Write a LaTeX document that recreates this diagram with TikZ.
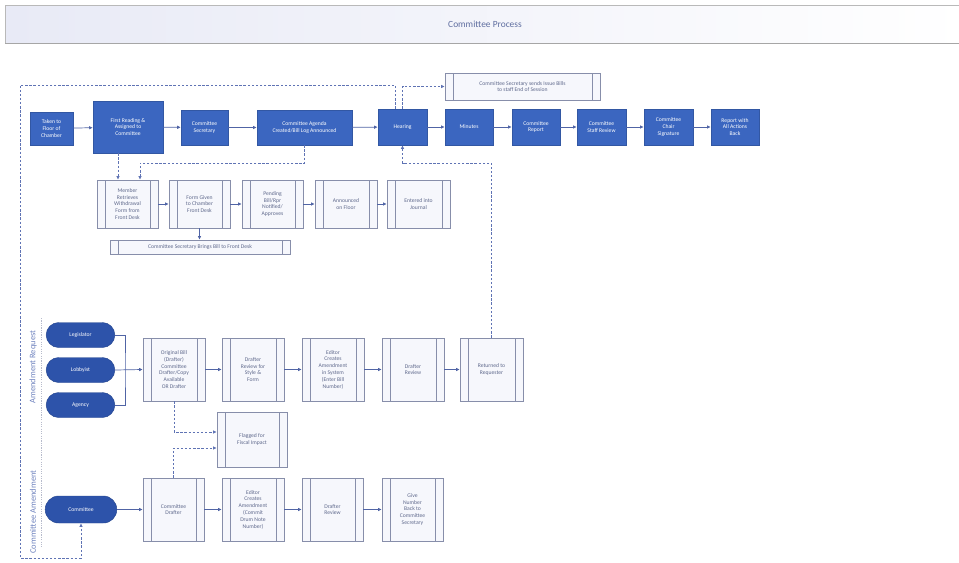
\documentclass[tikz,border=0pt]{standalone}
\usepackage{fontspec}
\setmainfont{Carlito}
\usetikzlibrary{arrows.meta,calc,shapes.misc}
\newdimen\pu \pu=0.85pt
\definecolor{bx}{RGB}{59,102,192}
\definecolor{ov}{RGB}{45,83,170}
\definecolor{subf}{RGB}{246,247,252}
\definecolor{subd}{RGB}{135,142,170}
\definecolor{subt}{RGB}{95,105,140}
\definecolor{ln}{RGB}{80,100,165}
\definecolor{dln}{RGB}{95,115,180}
\definecolor{ttl}{RGB}{95,110,160}
\definecolor{lanec}{RGB}{110,130,190}
\tikzset{
  boxfont/.style={font=\fontsize{4.8}{5.8}\selectfont},
  proc/.style={rectangle, draw=bx!85!black, fill=bx, text=white, inner sep=1pt, align=center, boxfont},
  sub/.style={rectangle, draw=subd, fill=subf, text=subt, inner sep=1pt, align=center, boxfont, line width=0.5pt,
    path picture={\draw[subd, line width=0.5pt]
      ([xshift=8\pu]path picture bounding box.north west) -- ([xshift=8\pu]path picture bounding box.south west)
      ([xshift=-8\pu]path picture bounding box.north east) -- ([xshift=-8\pu]path picture bounding box.south east);}},
  oval/.style={rounded rectangle, draw=ov!85!black, fill=ov, text=white, inner sep=1pt, align=center, boxfont, minimum width=71\pu, minimum height=25\pu},
  flow/.style={draw=ln, line width=0.6pt, -{Latex[length=3pt,width=3pt]}},
  dl/.style={draw=dln, line width=0.6pt, dash pattern=on 2pt off 1.5pt, -{Latex[length=3pt,width=3pt]}},
  lanelbl/.style={text=lanec, font=\fontsize{7.2}{8}\selectfont, rotate=90},
}
\begin{document}
\begin{tikzpicture}[x=\pu, y=-\pu]
\useasboundingbox (0,0) rectangle (959,562);
% title bar
\node[rectangle, draw=gray!55, line width=0.6pt, left color={rgb,255:red,232;green,234;blue,246}, right color=white,
  minimum width=962\pu, minimum height=38\pu, anchor=north west] (title) at (5,5) {};
\node[text=ttl, font=\fontsize{8}{9}\selectfont] (titletext) at (485,24) {Committee Process};
\draw[gray!70, line width=1pt] (title.south west) -- (title.south east);

% top row
\node[proc, minimum width=43\pu, minimum height=33\pu] (a1) at (51.5,128.5) {Taken to\\Floor of\\Chamber};
\node[proc, minimum width=70\pu, minimum height=52\pu] (a2) at (128,127) {First Reading \&\\Assigned to\\Committee};
\node[proc, minimum width=47\pu, minimum height=35\pu] (a3) at (204.5,127.5) {Committee\\Secretary};
\node[proc, minimum width=95\pu, minimum height=35\pu] (a4) at (304.5,127.5) {Committee Agenda\\Created/Bill Log Announced};
\node[proc, minimum width=49\pu, minimum height=36\pu] (a5) at (402.5,127) {Hearing};
\node[proc, minimum width=48\pu, minimum height=36\pu] (a6) at (469,127) {Minutes};
\node[proc, minimum width=48\pu, minimum height=36\pu] (a7) at (536,127) {Committee\\Report};
\node[proc, minimum width=49\pu, minimum height=36\pu] (a8) at (601.5,127) {Committee\\Staff Review};
\node[proc, minimum width=49\pu, minimum height=36\pu] (a9) at (668.5,127) {Committee\\Chair\\Signature};
\node[proc, minimum width=48\pu, minimum height=36\pu] (a10) at (735,127) {Report with\\All Actions\\Back};
\node[sub, minimum width=155\pu, minimum height=27\pu] (s0) at (522.5,86.5) {Committee Secretary sends Issue Bills\\to staff End of Session};

\foreach \p/\q in {a1/a2,a2/a3,a3/a4,a4/a5,a5/a6,a6/a7,a7/a8,a8/a9,a9/a10}
  \draw[flow] (\p) -- (\q);

% second row
\node[sub, minimum width=61\pu, minimum height=48\pu] (b1) at (127.5,204) {Member\\Retrieves\\Withdrawal\\Form from\\Front Desk};
\node[sub, minimum width=61\pu, minimum height=48\pu] (b2) at (199.5,204) {Form Given\\to Chamber\\Front Desk};
\node[sub, minimum width=61\pu, minimum height=48\pu] (b3) at (272.5,204) {Pending\\Bill/Rpr\\Notified/\\Approves};
\node[sub, minimum width=62\pu, minimum height=48\pu] (b4) at (346,204) {Announced\\on Floor};
\node[sub, minimum width=63\pu, minimum height=48\pu] (b5) at (418.5,204) {Entered into\\Journal};
\node[sub, minimum width=180\pu, minimum height=14\pu] (b6) at (200,247) {Committee Secretary Brings Bill to Front Desk};
\foreach \p/\q in {b1/b2,b2/b3,b3/b4,b4/b5}
  \draw[flow] (\p) -- (\q);
\draw[flow] (b2.south) -- (b6.north -| b2.south);

% lane labels
\draw[subd!60, line width=0.4pt, dash pattern=on 1pt off 1pt] (41,318) -- (41,548);
\node[lanelbl] (l1) at (33,367) {Amendment Request};
\node[lanelbl] (l2) at (33,512) {Committee Amendment};

% ovals
\node[oval] (o1) at (80.5,335) {Legislator};
\node[oval] (o2) at (80.5,370) {Lobbyist};
\node[oval] (o3) at (80.5,405) {Agency};
\node[oval, minimum width=74\pu, minimum height=27\pu] (o4) at (81,509.5) {Committee};

% middle row
\node[sub, minimum width=62\pu, minimum height=63\pu] (m1) at (174,369.5) {Original Bill\\(Drafter)\\Committee\\Drafter/Copy\\Available\\OR Drafter};
\node[sub, minimum width=62\pu, minimum height=63\pu] (m2) at (253,369.5) {Drafter\\Review for\\Style \&\\Form};
\node[sub, minimum width=62\pu, minimum height=63\pu] (m3) at (333,369.5) {Editor\\Creates\\Amendment\\in System\\(Enter Bill\\Number)};
\node[sub, minimum width=62\pu, minimum height=63\pu] (m4) at (413,369.5) {Drafter\\Review};
\node[sub, minimum width=63\pu, minimum height=63\pu] (m5) at (491.5,369.5) {Returned to\\Requester};
\foreach \p/\q in {m1/m2,m2/m3,m3/m4,m4/m5}
  \draw[flow] (\p) -- (\q);
\coordinate (br) at (125,370);
\draw[ln, line width=0.6pt] (o1.east) -| (br) |- (o3.east);
\draw[flow] (o2.east) -- (m1.west);

% flagged
\node[sub, minimum width=70\pu, minimum height=55\pu] (f) at (252,439.5) {Flagged for\\Fiscal Impact};

% bottom row
\node[sub, minimum width=61\pu, minimum height=63\pu] (n1) at (173.5,509.5) {Committee\\Drafter};
\node[sub, minimum width=62\pu, minimum height=63\pu] (n2) at (253,509.5) {Editor\\Creates\\Amendment\\(Commit\\Drum Note\\Number)};
\node[sub, minimum width=61\pu, minimum height=63\pu] (n3) at (332.5,509.5) {Drafter\\Review};
\node[sub, minimum width=61\pu, minimum height=63\pu] (n4) at (412.5,509.5) {Give\\Number\\Back to\\Committee\\Secretary};
\foreach \p/\q in {n1/n2,n2/n3,n3/n4}
  \draw[flow] (\p) -- (\q);
\draw[flow] (o4.east) -- (n1.west);

% dashed connectors
\draw[dl] (m1.south) |- ([yshift=7.5\pu]f.west);
\draw[dl] (n1.north) |- ([yshift=-8.5\pu]f.west);
\draw[dl] (a2.south -| 118,0) -- (b1.north -| 118,0);
\draw[dl] (a4.south) |- (140,163) -- (b1.north -| 140,0);
\draw[dl] (m5.north) |- (a5.south |- 0,163) -- (a5.south);
\draw[dl] (a5.north) |- (s0.west);
\draw[dl] ([xshift=-7.5\pu]a5.north) |- (20,85) -- (20,558) -| (o4.south);
\end{tikzpicture}
\end{document}
